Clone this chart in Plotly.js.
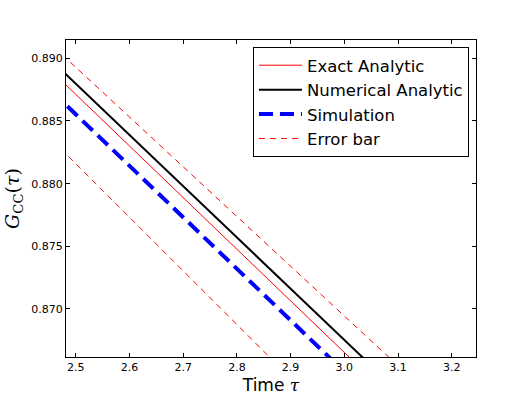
<!DOCTYPE html>
<html>
<head>
<meta charset="utf-8">
<script src="https://cdn.plot.ly/plotly-3.0.1.min.js"></script>
<style>
  html, body { margin: 0; padding: 0; background: #fff; }
  #chart { width: 530px; height: 397px; }
</style>
</head>
<body>
<div id="chart"></div>
<script>
// time values where the curves were read
var timeTau = [2.4, 2.6, 2.8, 3.0, 3.2];

// G_CC(tau)
var exactAnalytic = [0.89125, 0.88301, 0.87477, 0.86653, 0.85829];
var numericalAnalytic = [0.89207, 0.88389, 0.87571, 0.86753, 0.85935];
var simulation = [0.88965, 0.88143, 0.87321, 0.86499, 0.85677];
var errorUpper = [0.89326, 0.88532, 0.87738, 0.86944, 0.86150];
var errorLower = [0.88588, 0.87732, 0.86876, 0.86020, 0.85164];

var xTicks = [2.5, 2.6, 2.7, 2.8, 2.9, 3.0, 3.1, 3.2];
var yTicks = [0.870, 0.875, 0.880, 0.885, 0.890];

var traceExact = {
  x: timeTau, y: exactAnalytic, mode: 'lines', name: 'Exact Analytic',
  line: { color: '#ff0000', width: 1 }
};
var traceNumerical = {
  x: timeTau, y: numericalAnalytic, mode: 'lines', name: 'Numerical Analytic',
  line: { color: '#000000', width: 2 }
};
var traceSim = {
  x: timeTau, y: simulation, mode: 'lines', name: 'Simulation',
  line: { color: '#0000ff', width: 4, dash: '14px,7px' }
};
var traceErrUp = {
  x: timeTau, y: errorUpper, mode: 'lines', name: 'Error bar',
  line: { color: '#ff0000', width: 1, dash: '6px,5px' }
};
var traceErrLow = {
  x: timeTau, y: errorLower, mode: 'lines', name: 'Error bar',
  showlegend: false,
  line: { color: '#ff0000', width: 1, dash: '6px,5px' }
};

var data = [traceExact, traceNumerical, traceSim, traceErrUp, traceErrLow];

var tauHtml = '<span style="font-family:\'DejaVu Serif\'"><i>τ</i></span>';

var layout = {
  width: 530,
  height: 397,
  margin: { l: 66, r: 54, t: 40, b: 40 },
  paper_bgcolor: '#ffffff',
  plot_bgcolor: '#ffffff',
  font: { family: 'DejaVu Sans', size: 11, color: '#000' },
  showlegend: true,
  legend: {
    x: 0.456, y: 0.978, xanchor: 'left', yanchor: 'top',
    bordercolor: '#000', borderwidth: 1, bgcolor: '#fff',
    tracegroupgap: 0, itemwidth: 43,
    font: { family: 'DejaVu Sans', size: 16.5, color: '#000' }
  },
  xaxis: {
    title: { text: 'Time ' + tauHtml, font: { size: 17 }, standoff: 5 },
    range: [2.482, 3.245],
    tickvals: xTicks,
    ticktext: xTicks.map(v => v.toFixed(1)),
    ticks: 'inside', ticklen: 4, tickcolor: '#000',
    showline: true, linecolor: '#000', linewidth: 1, mirror: 'ticks',
    showgrid: false, zeroline: false
  },
  yaxis: {
    title: {
      text: '<span style="font-family:\'DejaVu Serif\'"><i>G</i><sub>CC</sub>(<i>τ</i>)</span>',
      font: { size: 19 }, standoff: 6
    },
    range: [0.86617, 0.89146],
    tickvals: yTicks,
    ticktext: yTicks.map(v => v.toFixed(3)),
    ticks: 'inside', ticklen: 4, tickcolor: '#000',
    showline: true, linecolor: '#000', linewidth: 1, mirror: 'ticks',
    showgrid: false, zeroline: false
  }
};

Plotly.newPlot('chart', data, layout, { displayModeBar: false, staticPlot: true });
</script>
</body>
</html>
